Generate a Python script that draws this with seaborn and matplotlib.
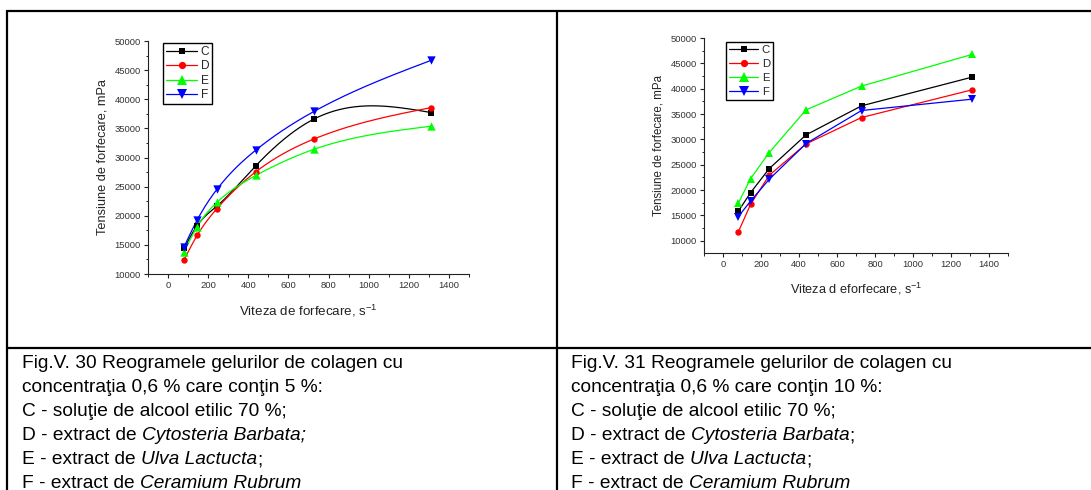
import numpy as np
import pandas as pd
import matplotlib
matplotlib.use("Agg")
import matplotlib.pyplot as plt
from matplotlib.lines import Line2D
from matplotlib.ticker import MultipleLocator
import seaborn as sns

# Shear rates (s^-1)
shear_rate = [80, 145, 243, 437, 729, 1312]

# Fig.V.30 - 5 % additive, shear stress (mPa)
f30_C = [14400, 18300, 21650, 28570, 36630, 37710]
f30_D = [12460, 16630, 21200, 27540, 33200, 38570]
f30_E = [13830, 18110, 22290, 26910, 31430, 35370]
f30_F = [14690, 19260, 24510, 31260, 37940, 46690]

# Fig.V.31 - 10 % additive, shear stress (mPa)
f31_C = [15800, 19490, 24230, 30890, 36620, 42290]
f31_D = [11710, 17180, 22920, 29110, 34320, 39790]
f31_E = [17380, 22260, 27400, 35830, 40510, 46770]
f31_F = [14740, 17840, 22130, 29180, 35700, 37940]

series_names = ["C", "D", "E", "F"]
colors = {"C": "#000000", "D": "#ff0000", "E": "#00ff00", "F": "#0000ff"}
markers = {"C": "s", "D": "o", "E": "^", "F": "v"}
msizes = {"C": 4.2, "D": 4.6, "E": 6.0, "F": 6.0}

caption_30 = [
    [("Fig.V. 30 Reogramele gelurilor de colagen cu", "normal")],
    [("concentraţia 0,6 % care conţin 5 %:", "normal")],
    [("C - soluţie de alcool etilic 70 %;", "normal")],
    [("D - extract de ", "normal"), ("Cytosteria Barbata;", "italic")],
    [("E - extract de ", "normal"), ("Ulva Lactucta", "italic"), (";", "normal")],
    [("F - extract de ", "normal"), ("Ceramium Rubrum", "italic")],
]
caption_31 = [
    [("Fig.V. 31 Reogramele gelurilor de colagen cu", "normal")],
    [("concentraţia 0,6 % care conţin 10 %:", "normal")],
    [("C - soluţie de alcool etilic 70 %;", "normal")],
    [("D - extract de ", "normal"), ("Cytosteria Barbata", "italic"), (";", "normal")],
    [("E - extract de ", "normal"), ("Ulva Lactucta", "italic"), (";", "normal")],
    [("F - extract de ", "normal"), ("Ceramium Rubrum", "italic")],
]

sns.set_style("ticks")
plt.rcParams["font.family"] = ["Liberation Sans", "DejaVu Sans"]
plt.rcParams["mathtext.fontset"] = "custom"
plt.rcParams["mathtext.rm"] = "Liberation Sans"
plt.rcParams["mathtext.it"] = "Liberation Sans:italic"


def natural_spline(x, y, n=300):
    """Natural cubic spline through the points, sampled densely for a smooth curve."""
    x = np.asarray(x, float)
    y = np.asarray(y, float)
    k = len(x)
    h = np.diff(x)
    A = np.zeros((k, k))
    r = np.zeros(k)
    A[0, 0] = A[-1, -1] = 1.0
    for i in range(1, k - 1):
        A[i, i - 1] = h[i - 1]
        A[i, i] = 2 * (h[i - 1] + h[i])
        A[i, i + 1] = h[i]
        r[i] = 6 * ((y[i + 1] - y[i]) / h[i] - (y[i] - y[i - 1]) / h[i - 1])
    m = np.linalg.solve(A, r)
    xs = np.linspace(x[0], x[-1], n)
    idx = np.clip(np.searchsorted(x, xs) - 1, 0, k - 2)
    x0, x1 = x[idx], x[idx + 1]
    hh = x1 - x0
    t0 = x1 - xs
    t1 = xs - x0
    ys = (m[idx] * t0 ** 3 + m[idx + 1] * t1 ** 3) / (6 * hh) \
        + (y[idx] / hh - m[idx] * hh / 6) * t0 \
        + (y[idx + 1] / hh - m[idx + 1] * hh / 6) * t1
    return xs, ys


def long_frame(values):
    rows = []
    for name, vals in zip(series_names, values):
        for xv, yv in zip(shear_rate, vals):
            rows.append({"rate": xv, "stress": yv, "series": name})
    return pd.DataFrame(rows)


def style_axes(ax, ylim):
    ax.set_xlim(-100, 1500)
    ax.set_ylim(*ylim)
    ax.xaxis.set_major_locator(MultipleLocator(200))
    ax.xaxis.set_minor_locator(MultipleLocator(100))
    ax.yaxis.set_major_locator(MultipleLocator(5000))
    ax.yaxis.set_minor_locator(MultipleLocator(2500))
    for s in ("top", "right"):
        ax.spines[s].set_visible(False)
    for s in ("left", "bottom"):
        ax.spines[s].set_linewidth(0.8)
        ax.spines[s].set_color("#222222")
    ax.tick_params(which="major", direction="out", length=3.2, width=0.8,
                   labelsize=6.8, pad=2, colors="#222222")
    ax.tick_params(which="minor", direction="out", length=1.8, width=0.7,
                   colors="#222222")
    for lab in ax.get_xticklabels() + ax.get_yticklabels():
        lab.set_color("#333333")


def add_legend(ax, anchor, fs, spacing):
    handles = [Line2D([], [], color=colors[n], marker=markers[n], lw=0.9,
                      markersize=msizes[n] + 0.6, markeredgewidth=0)
               for n in series_names]
    leg = ax.legend(handles, series_names, loc="upper left",
                    bbox_to_anchor=anchor, frameon=True, fancybox=False,
                    framealpha=1, edgecolor="black", fontsize=fs,
                    handlelength=2.6, handletextpad=0.3, labelspacing=spacing,
                    borderpad=0.25, borderaxespad=0, markerscale=1.0)
    leg.get_frame().set_linewidth(1.0)


fig = plt.figure(figsize=(10.91, 4.90), dpi=100)
W, H = 1091.0, 490.0

# ---- Fig.V.30: smoothed curves ----
ax1 = fig.add_axes([148 / W, 1 - 274 / H, 321 / W, 233 / H])
df30 = long_frame([f30_C, f30_D, f30_E, f30_F])
curves = []
for name, vals in zip(series_names, [f30_C, f30_D, f30_E, f30_F]):
    xs, ys = natural_spline(shear_rate, vals)
    curves.append(pd.DataFrame({"rate": xs, "stress": ys, "series": name}))
curves = pd.concat(curves, ignore_index=True)
sns.lineplot(data=curves, x="rate", y="stress", hue="series", palette=colors,
             sort=False, linewidth=0.9, legend=False, ax=ax1)
for name in series_names:
    sub = df30[df30.series == name]
    sns.scatterplot(data=sub, x="rate", y="stress", color=colors[name],
                    marker=markers[name], s=msizes[name] ** 2, linewidth=0,
                    legend=False, ax=ax1, zorder=3)
style_axes(ax1, (10000, 50000))
ax1.set_xlabel("Viteza de forfecare, s$^{-1}$", fontsize=9.6, labelpad=9,
               color="#222222")
ax1.set_ylabel("Tensiune de forfecare, mPa", fontsize=9.2, labelpad=4,
               color="#222222")
add_legend(ax1, ((163 - 148) / 321, (274 - 43) / 233), 8.6, 0.2)

# ---- Fig.V.31: straight segments ----
ax2 = fig.add_axes([704 / W, 1 - 253 / H, 304 / W, 215 / H])
df31 = long_frame([f31_C, f31_D, f31_E, f31_F])
sns.lineplot(data=df31, x="rate", y="stress", hue="series", style="series",
             palette=colors, markers=markers, dashes=False, linewidth=0.9,
             markersize=5, markeredgewidth=0, legend=False, ax=ax2)
for line, name in zip(ax2.get_lines(), series_names):
    line.set_markersize(msizes[name])
style_axes(ax2, (7600, 50000))
ax2.set_xlabel("Viteza d eforfecare, s$^{-1}$", fontsize=9.2, labelpad=8,
               color="#222222")
ax2.set_ylabel("Tensiune de forfecare, mPa", fontsize=8.3, labelpad=4,
               color="#222222")
add_legend(ax2, ((726 - 704) / 304, (253 - 42) / 215), 8.2, 0.36)

# ---- table frame ----
lw = 1.6
for (x0, y0, x1, y1) in [(7, 11, 1091, 11), (7, 348, 1091, 348),
                         (7, 11, 7, 490), (557, 11, 557, 490)]:
    fig.add_artist(Line2D([x0 / W, x1 / W], [1 - y0 / H, 1 - y1 / H],
                          color="black", lw=lw, transform=fig.transFigure))

# ---- captions ----
fig.canvas.draw()
renderer = fig.canvas.get_renderer()


def draw_caption(lines, x_px, first_baseline, step):
    for i, parts in enumerate(lines):
        y = 1 - (first_baseline + i * step) / H
        x = x_px
        for text, style in parts:
            t = fig.text(x / W, y, text, fontsize=13.8, fontstyle=style,
                         va="baseline", ha="left", color="black")
            bb = t.get_window_extent(renderer=renderer)
            x += bb.width


draw_caption(caption_30, 22, 368, 24.0)
draw_caption(caption_31, 571, 368, 24.0)

fig.savefig("out.png", dpi=100)
